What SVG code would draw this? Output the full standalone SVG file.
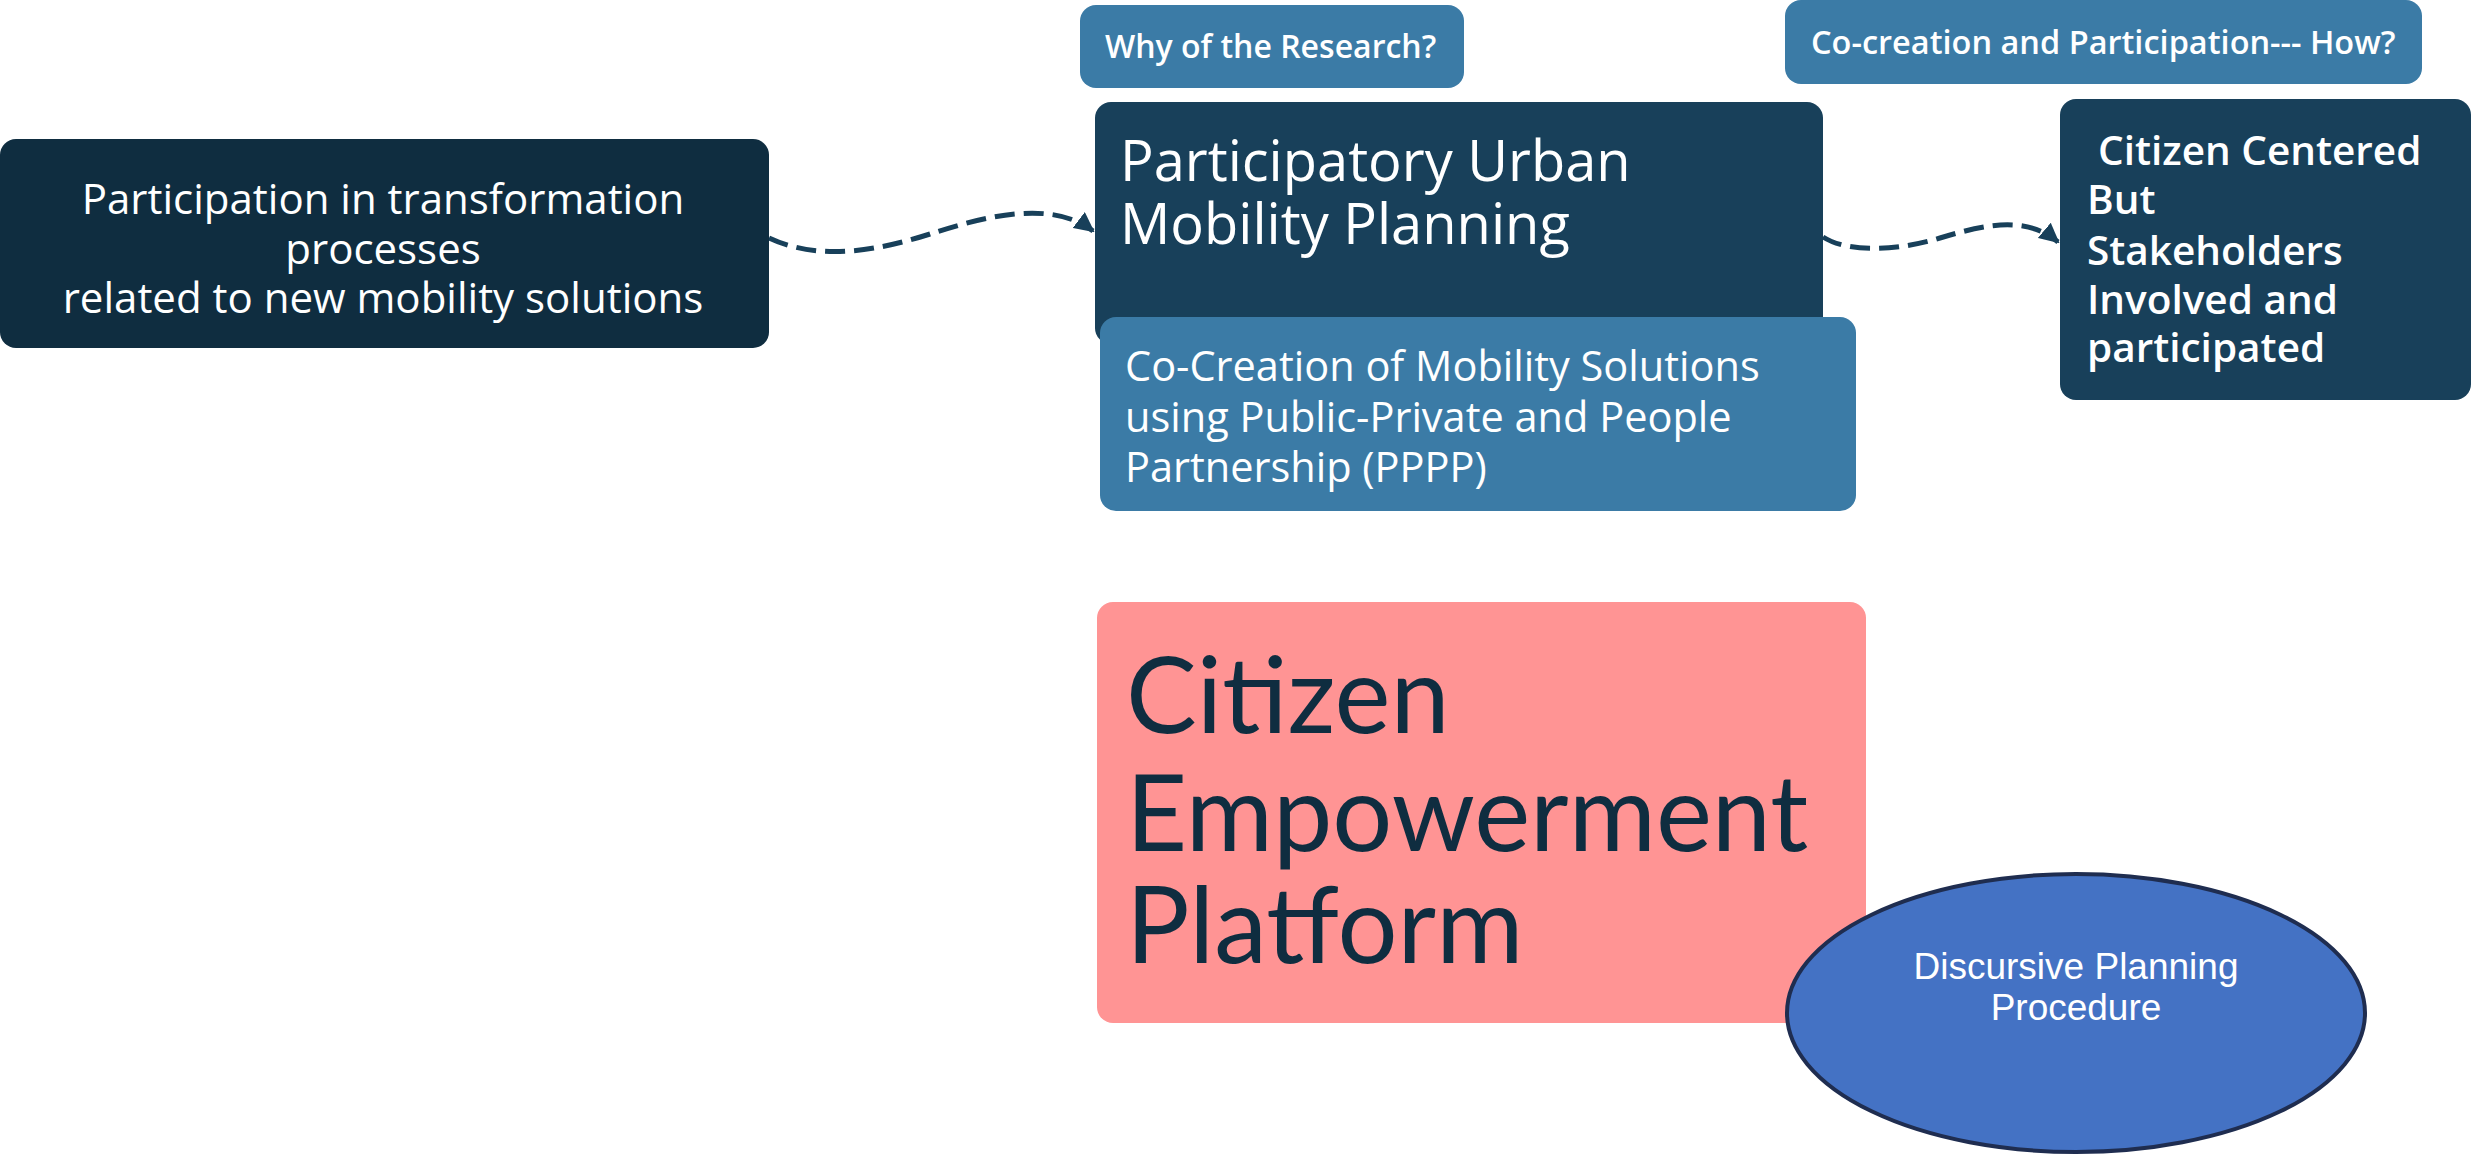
<svg xmlns="http://www.w3.org/2000/svg" width="2471" height="1154" viewBox="0 0 2471 1154">
<defs>
<style>
.t{font-family:"Open Sans",Lato,"Liberation Sans",sans-serif;fill:#ffffff}
.big{font-family:Lato,"Open Sans","Liberation Sans",sans-serif;fill:#0f2d40}
.dark{fill:#0f2d40}
.navy{fill:#18405a}
.mid{fill:#3b7ba6}
.conn{fill:none;stroke:#18405a;stroke-width:5;stroke-dasharray:20 9}
</style>
<marker id="arr" viewBox="0 0 10 10" refX="9" refY="5" markerWidth="4" markerHeight="4" orient="auto" markerUnits="strokeWidth">
<path d="M0,0 L10,5 L0,10 z" fill="#18405a"/>
</marker>
</defs>
<rect width="2471" height="1154" fill="#ffffff"/>
<g id="connectors">
<path class="conn" d="M769,238 C820,262 880,250 930,234 C980,218 1050,198 1093,231" marker-end="url(#arr)"/>
<path class="conn" d="M1823,237 C1850,254 1900,250 1940,238 C1980,226 2025,214 2058,242" marker-end="url(#arr)"/>
</g>
<g id="node-participation">
<rect class="dark" x="0" y="139" width="769" height="209" rx="16"/>
<text class="t" text-anchor="middle" font-size="42"><tspan x="383" y="214">Participation in transformation</tspan><tspan x="383" y="264">processes</tspan><tspan x="383" y="313">related to new mobility solutions</tspan></text>
</g>
<g id="node-why">
<rect class="mid" x="1080" y="5" width="384" height="83" rx="16"/>
<text class="t" x="1105" y="58" font-size="32" font-weight="600">Why of the Research?</text>
</g>
<g id="node-how">
<rect class="mid" x="1785" y="0" width="637" height="84" rx="16"/>
<text class="t" x="1811" y="54" font-size="32.5" font-weight="600">Co-creation and Participation--- How?</text>
</g>
<g id="node-pump">
<rect class="navy" x="1095" y="102" width="728" height="242" rx="16"/>
<text class="t" font-size="56"><tspan x="1120" y="181">Participatory Urban</tspan><tspan x="1120" y="244">Mobility Planning</tspan></text>
</g>
<g id="node-cocreation">
<rect class="mid" x="1100" y="317" width="756" height="194" rx="16"/>
<text class="t" font-size="41.5"><tspan x="1125" y="381">Co-Creation of Mobility Solutions</tspan><tspan x="1125" y="432">using Public-Private and People</tspan><tspan x="1125" y="482">Partnership (PPPP)</tspan></text>
</g>
<g id="node-citizen-centered">
<rect class="navy" x="2060" y="99" width="411" height="301" rx="16"/>
<text class="t" font-size="40.5" font-weight="600"><tspan x="2098" y="165">Citizen Centered</tspan><tspan x="2087" y="214">But</tspan><tspan x="2087" y="265">Stakeholders</tspan><tspan x="2087" y="314">Involved and</tspan><tspan x="2087" y="362">participated</tspan></text>
</g>
<g id="node-cep">
<rect x="1097" y="602" width="769" height="421" rx="16" fill="#ff9494"/>
<text class="big" font-size="106"><tspan x="1126" y="733">Citizen</tspan><tspan x="1126" y="851">Empowerment</tspan><tspan x="1126" y="963">Platform</tspan></text>
</g>
<g id="node-discursive">
<ellipse cx="2076" cy="1013" rx="289" ry="139" fill="#4472c4" stroke="#1f2d50" stroke-width="4"/>
<text font-family="'Liberation Sans',Arial,sans-serif" font-size="37" fill="#ffffff" text-anchor="middle"><tspan x="2076" y="979">Discursive Planning</tspan><tspan x="2076" y="1020">Procedure</tspan></text>
</g>
</svg>
